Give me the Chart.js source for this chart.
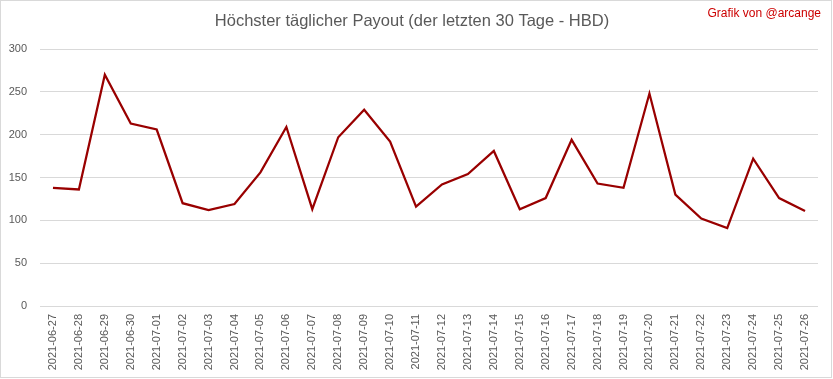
<!DOCTYPE html>
<html>
<head>
<meta charset="utf-8">
<script src="https://cdn.jsdelivr.net/npm/chart.js@4/dist/chart.umd.min.js"></script>
<style>
html,body{margin:0;padding:0;background:#fff;}
#wrap{width:833px;height:379px;position:relative;}
</style>
</head>
<body>
<div id="wrap"><canvas id="c" width="833" height="379"></canvas></div>
<script>
const categories = ["2021-06-27","2021-06-28","2021-06-29","2021-06-30","2021-07-01","2021-07-02","2021-07-03","2021-07-04","2021-07-05","2021-07-06","2021-07-07","2021-07-08","2021-07-09","2021-07-10","2021-07-11","2021-07-12","2021-07-13","2021-07-14","2021-07-15","2021-07-16","2021-07-17","2021-07-18","2021-07-19","2021-07-20","2021-07-21","2021-07-22","2021-07-23","2021-07-24","2021-07-25","2021-07-26"];
const payoutHBD = [138,136,270,213,206,120,112,119,156,209,113,197,229,192,116,142,154,181,113,126,194,143,138,248,130,102,91,172,126,111];
const yTicks = [0,50,100,150,200,250,300];
const titleText = "Höchster täglicher Payout (der letzten 30 Tage - HBD)";
const creditText = "Grafik von @arcange";

const decor = {
  id: 'decor',
  beforeDraw(chart){
    const ctx = chart.ctx;
    ctx.save();
    ctx.fillStyle = '#fff';
    ctx.fillRect(0,0,chart.width,chart.height);
    ctx.restore();
  },
  afterDraw(chart){
    const ctx = chart.ctx;
    ctx.save();
    ctx.strokeStyle = '#d9d9d9';
    ctx.lineWidth = 1;
    ctx.strokeRect(0.5,0.5,831,377);
    ctx.fillStyle = '#595959';
    ctx.font = '16.5px "Liberation Sans"';
    ctx.textAlign = 'center';
    ctx.textBaseline = 'middle';
    ctx.fillText(titleText, 412, 21);
    ctx.fillStyle = '#cc0000';
    ctx.font = '12px "Liberation Sans"';
    ctx.textAlign = 'right';
    ctx.fillText(creditText, 821, 14);
    ctx.restore();
  }
};

new Chart(document.getElementById('c'), {
  type: 'line',
  data: {
    labels: categories,
    datasets: [{
      data: payoutHBD,
      borderColor: '#990000',
      borderWidth: 2.25,
      pointRadius: 0,
      tension: 0,
      fill: false
    }]
  },
  options: {
    responsive: false,
    animation: false,
    events: [],
    layout: { padding: { top: 49, right: 15, left: 0, bottom: 0 } },
    plugins: { legend: { display: false }, title: { display: false }, tooltip: { enabled: false } },
    scales: {
      x: {
        offset: true,
        grid: { display: false, drawTicks: false },
        border: { display: false },
        ticks: {
          color: '#595959',
          font: { family: '"Liberation Sans"', size: 11 },
          maxRotation: 90, minRotation: 90,
          autoSkip: false,
          padding: 8
        },
        afterFit(s){ s.height = 73; }
      },
      y: {
        min: 0, max: 300,
        afterBuildTicks(s){ s.ticks = yTicks.map(v => ({value: v})); },
        grid: { color: '#d9d9d9', drawTicks: false, lineWidth: 1 },
        border: { display: false },
        ticks: {
          color: '#595959',
          font: { family: '"Liberation Sans"', size: 11 },
          padding: 13
        },
        afterFit(s){ s.width = 40; }
      }
    }
  },
  plugins: [decor]
});
</script>
</body>
</html>
